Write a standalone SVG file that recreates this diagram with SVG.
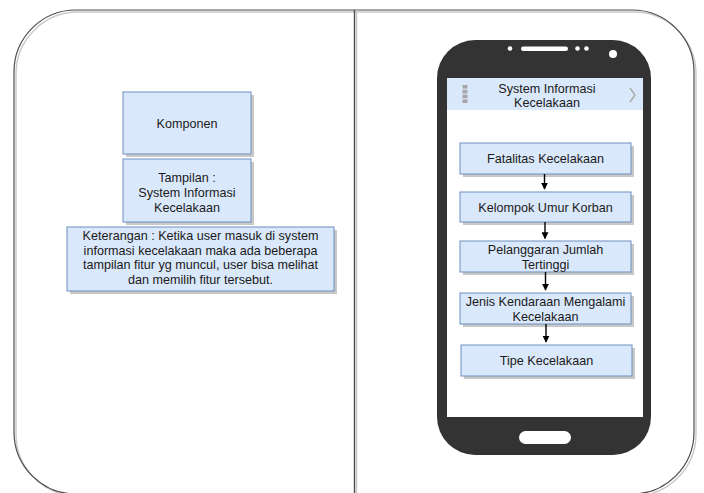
<svg xmlns="http://www.w3.org/2000/svg" width="704" height="493" viewBox="0 0 704 493">
  <defs>
    <style>
      .box { fill: #dae8fc; stroke: #6c8ebf; stroke-width: 1; }
      .shade { fill: #9a9a9a; opacity: 0.55; }
      .lbl { font-family: "Liberation Sans", Arial, sans-serif; font-size: 12.6px; fill: #1a1a1a; text-anchor: middle; }
      .frame { fill: none; stroke: #4d4d4d; stroke-width: 1.2; }
      .frame-shade { fill: none; stroke: #c8c8c8; stroke-width: 1.4; }
      .link { stroke: #000; stroke-width: 1.4; fill: none; marker-end: url(#arrow); }
    </style>
    <marker id="arrow" viewBox="0 0 10 10" refX="9" refY="5" markerWidth="7" markerHeight="7" markerUnits="userSpaceOnUse" orient="auto">
      <path d="M0,0 L10,5 L0,10 Z" fill="#000"/>
    </marker>
  </defs>

  <rect width="704" height="493" fill="#ffffff"/>

  <!-- outer frame and divider -->
  <g id="frame">
    <rect class="frame-shade" x="16" y="12" width="680" height="484" rx="62" ry="62"/>
    <rect class="frame" x="14" y="10" width="680" height="484" rx="62" ry="62"/>
    <line x1="356.5" y1="10" x2="356.5" y2="493" stroke="#c8c8c8" stroke-width="1.4"/>
    <line x1="354.5" y1="10" x2="354.5" y2="493" stroke="#4d4d4d" stroke-width="1.4"/>
  </g>

  <!-- left panel -->
  <g id="komponen">
    <rect class="shade" x="126" y="95" width="128" height="62"/>
    <rect class="box" x="123" y="92" width="128" height="62"/>
    <text class="lbl" x="187" y="127.5">Komponen</text>
  </g>

  <g id="tampilan">
    <rect class="shade" x="126" y="162" width="128" height="63"/>
    <rect class="box" x="123" y="159" width="128" height="63"/>
    <text class="lbl" x="187" y="181.5">Tampilan :</text>
    <text class="lbl" x="187" y="196.5">System Informasi</text>
    <text class="lbl" x="187" y="211.5">Kecelakaan</text>
  </g>

  <g id="keterangan">
    <rect class="shade" x="70" y="230" width="267" height="64"/>
    <rect class="box" x="67" y="227" width="267" height="64"/>
    <text class="lbl" x="200.5" y="239.5">Keterangan : Ketika user masuk di system</text>
    <text class="lbl" x="200.5" y="254.5">informasi kecelakaan maka ada beberapa</text>
    <text class="lbl" x="200.5" y="269">tampilan fitur yg muncul, user bisa melihat</text>
    <text class="lbl" x="200.5" y="283.5">dan memilih fitur tersebut.</text>
  </g>

  <!-- phone mockup -->
  <g id="phone">
    <rect x="437" y="40" width="214" height="415" rx="38" ry="38" fill="#333333"/>
    <rect x="447" y="78" width="196" height="339" fill="#ffffff"/>
    <rect x="447" y="78" width="196" height="32" fill="#dae8fc"/>
    <!-- top speaker and sensors -->
    <circle cx="510" cy="48.5" r="2.3" fill="#ffffff"/>
    <rect x="521" y="46.5" width="47" height="4.5" rx="2.2" fill="#ffffff"/>
    <circle cx="577.5" cy="48.5" r="2.3" fill="#ffffff"/>
    <circle cx="586.5" cy="48.5" r="2.3" fill="#ffffff"/>
    <circle cx="613" cy="54" r="4" fill="#ffffff"/>
    <!-- home button -->
    <rect x="519" y="431" width="52" height="13" rx="6.5" fill="#ffffff"/>
    <!-- header: menu icon, title, chevron -->
    <g fill="#a6a6a6">
      <rect x="462.5" y="85" width="5" height="3.6"/>
      <rect x="462.5" y="89.8" width="5" height="3.6"/>
      <rect x="462.5" y="94.6" width="5" height="3.6"/>
      <rect x="462.5" y="99.4" width="5" height="3.6"/>
    </g>
    <path d="M630,88 L635,95 L630,102" fill="none" stroke="#a6a6a6" stroke-width="1.3"/>
    <text class="lbl" x="547" y="93">System Informasi</text>
    <text class="lbl" x="547" y="107">Kecelakaan</text>
  </g>

  <g id="fatalitas">
    <rect class="shade" x="463" y="146" width="171" height="31"/>
    <rect class="box" x="460" y="143" width="171" height="31"/>
    <text class="lbl" x="545.5" y="163">Fatalitas Kecelakaan</text>
  </g>

  <g id="kelompok">
    <rect class="shade" x="463" y="195" width="171" height="30"/>
    <rect class="box" x="460" y="192" width="171" height="30"/>
    <text class="lbl" x="545.5" y="211.5">Kelompok Umur Korban</text>
  </g>

  <g id="pelanggaran">
    <rect class="shade" x="463" y="244" width="171" height="31"/>
    <rect class="box" x="460" y="241" width="171" height="31"/>
    <text class="lbl" x="545.5" y="254">Pelanggaran Jumlah</text>
    <text class="lbl" x="545.5" y="269">Tertinggi</text>
  </g>

  <g id="jenis">
    <rect class="shade" x="463" y="296" width="171" height="31"/>
    <rect class="box" x="460" y="293" width="171" height="31"/>
    <text class="lbl" x="545.5" y="306">Jenis Kendaraan Mengalami</text>
    <text class="lbl" x="545.5" y="320.5">Kecelakaan</text>
  </g>

  <g id="tipe">
    <rect class="shade" x="464" y="348" width="171" height="31"/>
    <rect class="box" x="461" y="345" width="171" height="31"/>
    <text class="lbl" x="546.5" y="364.5">Tipe Kecelakaan</text>
  </g>

  <!-- connectors -->
  <g id="connectors">
    <line class="link" x1="544.5" y1="174" x2="544.5" y2="189"/>
    <line class="link" x1="545" y1="222" x2="545" y2="238.5"/>
    <line class="link" x1="545.5" y1="272" x2="545.5" y2="290"/>
    <line class="link" x1="546" y1="324" x2="546" y2="342"/>
  </g>
</svg>
